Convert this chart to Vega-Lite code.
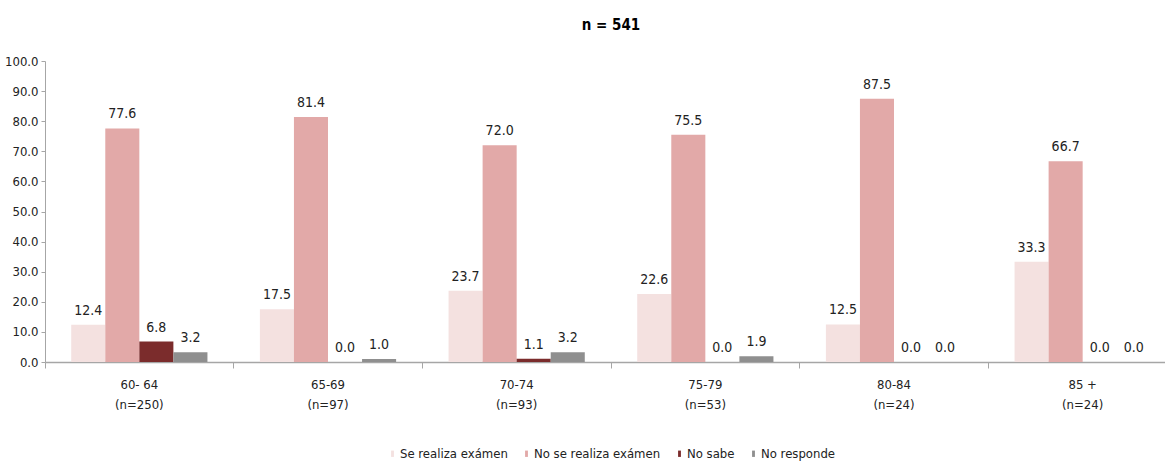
{
  "$schema": "https://vega.github.io/schema/vega-lite/v6.json",
  "width": 1132,
  "height": 301,
  "padding": {"left": 4, "top": 18, "right": 0, "bottom": 5},
  "title": {"text": "n = 541", "fontSize": 15, "fontWeight": "bold", "font": "DejaVu Sans Condensed", "color": "#000000", "offset": 22},
  "config": {
    "view": {"stroke": null},
    "font": "DejaVu Sans Condensed",
    "axis": {"labelFont": "DejaVu Sans Condensed", "labelColor": "#222222", "labelFontSize": 13, "domainColor": "#A6A6A6", "tickColor": "#A6A6A6", "grid": false, "title": null},
    "legend": {"layout": {"bottom": {"anchor": "middle"}}}
  },
  "data": {"values": [
    {"grupo": "60- 64|(n=250)", "serie": "Se realiza exámen", "valor": 12.4},
    {"grupo": "60- 64|(n=250)", "serie": "No se realiza exámen", "valor": 77.6},
    {"grupo": "60- 64|(n=250)", "serie": "No sabe", "valor": 6.8},
    {"grupo": "60- 64|(n=250)", "serie": "No responde", "valor": 3.2},
    {"grupo": "65-69|(n=97)", "serie": "Se realiza exámen", "valor": 17.5},
    {"grupo": "65-69|(n=97)", "serie": "No se realiza exámen", "valor": 81.4},
    {"grupo": "65-69|(n=97)", "serie": "No sabe", "valor": 0.0},
    {"grupo": "65-69|(n=97)", "serie": "No responde", "valor": 1.0},
    {"grupo": "70-74|(n=93)", "serie": "Se realiza exámen", "valor": 23.7},
    {"grupo": "70-74|(n=93)", "serie": "No se realiza exámen", "valor": 72.0},
    {"grupo": "70-74|(n=93)", "serie": "No sabe", "valor": 1.1},
    {"grupo": "70-74|(n=93)", "serie": "No responde", "valor": 3.2},
    {"grupo": "75-79|(n=53)", "serie": "Se realiza exámen", "valor": 22.6},
    {"grupo": "75-79|(n=53)", "serie": "No se realiza exámen", "valor": 75.5},
    {"grupo": "75-79|(n=53)", "serie": "No sabe", "valor": 0.0},
    {"grupo": "75-79|(n=53)", "serie": "No responde", "valor": 1.9},
    {"grupo": "80-84|(n=24)", "serie": "Se realiza exámen", "valor": 12.5},
    {"grupo": "80-84|(n=24)", "serie": "No se realiza exámen", "valor": 87.5},
    {"grupo": "80-84|(n=24)", "serie": "No sabe", "valor": 0.0},
    {"grupo": "80-84|(n=24)", "serie": "No responde", "valor": 0.0},
    {"grupo": "85 +|(n=24)", "serie": "Se realiza exámen", "valor": 33.3},
    {"grupo": "85 +|(n=24)", "serie": "No se realiza exámen", "valor": 66.7},
    {"grupo": "85 +|(n=24)", "serie": "No sabe", "valor": 0.0},
    {"grupo": "85 +|(n=24)", "serie": "No responde", "valor": 0.0}
  ]},
  "encoding": {
    "x": {"field": "grupo", "type": "nominal", "sort": null, "scale": {"paddingInner": 0, "paddingOuter": 0}},
    "xOffset": {"field": "serie", "type": "nominal", "sort": ["Se realiza exámen", "No se realiza exámen", "No sabe", "No responde"], "scale": {"paddingInner": 0, "paddingOuter": 0.77}},
    "y": {"field": "valor", "type": "quantitative", "scale": {"domain": [0, 100], "nice": false},
      "axis": {"values": [0,10,20,30,40,50,60,70,80,90,100], "format": ".1f", "tickSize": 4, "labelPadding": 3, "domain": true, "labelFontSize": 13}}
  },
  "layer": [
    {
      "mark": {"type": "bar", "strokeWidth": 0},
      "encoding": {
        "x": {"field": "grupo", "type": "nominal", "sort": null, "axis": {"orient": "bottom", "labelAngle": 0, "ticks": false, "domain": false, "labelExpr": "split(datum.label, '|')", "labelPadding": 16, "labelLineHeight": 20}},
        "color": {"field": "serie", "type": "nominal", "sort": ["Se realiza exámen", "No se realiza exámen", "No sabe", "No responde"],
          "scale": {"domain": ["Se realiza exámen", "No se realiza exámen", "No sabe", "No responde"], "range": ["#F4E1E0", "#E2A9A8", "#7B2C2C", "#8F8F8F"]},
          "legend": {"orient": "bottom", "direction": "horizontal", "title": null, "symbolType": "M-0.45,-1H0.45V1H-0.45Z", "symbolSize": 40, "symbolStrokeWidth": 0, "labelFontSize": 13, "labelFont": "DejaVu Sans Condensed", "labelColor": "#222222", "columnPadding": 12, "symbolOffset": 0, "labelOffset": 1, "offset": 36}}
      }
    },
    {
      "mark": {"type": "text", "baseline": "bottom", "dy": -7, "fontSize": 14, "color": "#222222", "font": "DejaVu Sans Condensed"},
      "encoding": {
        "x": {"field": "grupo", "type": "nominal", "sort": null, "axis": {"orient": "bottom", "labels": false, "ticks": true, "tickSize": 6, "bandPosition": 0, "domain": true, "domainWidth": 1.5}},
        "text": {"field": "valor", "type": "quantitative", "format": ".1f"}
      }
    }
  ],
  "resolve": {"axis": {"x": "independent"}}
}
